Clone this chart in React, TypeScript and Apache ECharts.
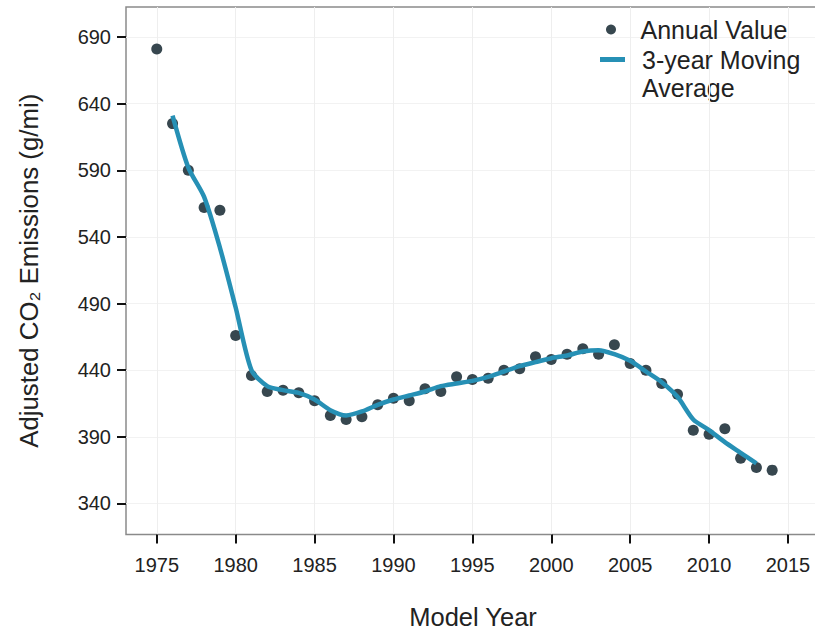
import React, { useEffect, useRef } from "react";
import * as echarts from "echarts";

const years: number[] = [
  1975, 1976, 1977, 1978, 1979, 1980, 1981, 1982, 1983, 1984,
  1985, 1986, 1987, 1988, 1989, 1990, 1991, 1992, 1993, 1994,
  1995, 1996, 1997, 1998, 1999, 2000, 2001, 2002, 2003, 2004,
  2005, 2006, 2007, 2008, 2009, 2010, 2011, 2012, 2013, 2014,
];
const annualValues: number[] = [
  681, 625, 590, 562, 560, 466, 436, 424, 425, 423,
  417, 406, 403, 405, 414, 419, 417, 426, 424, 435,
  433, 434, 440, 441, 450, 448, 452, 456, 452, 459,
  445, 440, 430, 422, 395, 392, 396, 374, 367, 365,
];
const avgYears: number[] = [
  1976, 1977, 1978, 1979, 1980, 1981, 1982, 1983, 1984, 1985,
  1986, 1987, 1988, 1989, 1990, 1991, 1992, 1993, 1994, 1995,
  1996, 1997, 1998, 1999, 2000, 2001, 2002, 2003, 2004, 2005,
  2006, 2007, 2008, 2009, 2010, 2011, 2012, 2013,
];
const movingAverage: number[] = [
  631, 592, 570, 532, 487, 440, 428, 425, 423, 418,
  410, 406, 409, 414, 418, 421, 424, 428, 430, 432,
  435, 439, 443, 446, 449, 451, 454, 455, 452, 447,
  439, 431, 420, 403, 395, 386, 378, 370,
];
const xTicks: number[] = [1975, 1980, 1985, 1990, 1995, 2000, 2005, 2010, 2015];
const yTicks: number[] = [340, 390, 440, 490, 540, 590, 640, 690];

const FONT = "'Liberation Sans', Arial, Helvetica, sans-serif";
const POINT = "#37474f";
const LINE = "#2690b5";

export default function App() {
  const ref = useRef<HTMLDivElement>(null);
  useEffect(() => {
    if (!ref.current) return;
    const chart = echarts.init(ref.current, undefined, { renderer: "svg" });
    const legendText = {
      fontFamily: FONT,
      fontSize: 25,
      lineHeight: 29,
      color: "#222",
      rich: { s: { width: 12 } },
    };
    chart.setOption({
      animation: false,
      backgroundColor: "#ffffff",
      textStyle: { fontFamily: FONT },
      grid: {
        left: 126,
        top: 7,
        right: -5,
        bottom: 95.5,
        outerBoundsMode: "none",
        containLabel: false,
        show: true,
        borderColor: "#8a8a8a",
        borderWidth: 1.5,
        backgroundColor: "#ffffff",
      },
      legend: [
        {
          data: [{ name: "Annual Value", icon: "circle" }],
          formatter: (n: string) => "{s|}" + n,
          left: 606,
          top: 15,
          padding: 0,
          orient: "vertical",
          itemWidth: 25,
          itemHeight: 10,
          textStyle: legendText,
        },
        {
          data: [{ name: "3-year Moving Average", icon: "rect" }],
          formatter: () => "{s|}3-year Moving",
          left: 600,
          top: 45,
          padding: 0,
          orient: "vertical",
          itemWidth: 25,
          itemHeight: 5,
          textStyle: legendText,
        },
      ],
      graphic: [
        {
          type: "text",
          left: 642,
          top: 75,
          style: {
            text: "Average",
            fontFamily: FONT,
            fontSize: 25,
            fill: "#222",
          },
        },
      ],
      xAxis: {
        type: "value",
        min: 1973.05,
        max: 2017.03,
        name: "Model Year",
        nameLocation: "middle",
        nameGap: 71,
        nameTextStyle: { fontFamily: FONT, fontSize: 25.5, lineHeight: 22, color: "#222" },
        axisLine: { show: false },
        axisTick: {
          show: true,
          customValues: xTicks,
          length: 9,
          lineStyle: { color: "#111", width: 2 },
        },
        axisLabel: {
          customValues: xTicks,
          formatter: (v: number) => String(v),
          margin: 20,
          fontFamily: FONT,
          fontSize: 20,
          color: "#222",
        },
        splitLine: { show: true, lineStyle: { color: "#eeeeee", width: 1 } },
      },
      yAxis: {
        type: "value",
        min: 316.7,
        max: 712.5,
        name: "Adjusted CO₂ Emissions (g/mi)",
        nameLocation: "middle",
        nameGap: 84,
        nameRotate: 90,
        nameTextStyle: { fontFamily: FONT, fontSize: 25.8, color: "#222" },
        axisLine: { show: false },
        axisTick: {
          show: true,
          customValues: yTicks,
          length: 9,
          lineStyle: { color: "#111", width: 2 },
        },
        axisLabel: {
          customValues: yTicks,
          formatter: (v: number) => String(v),
          margin: 15,
          fontFamily: FONT,
          fontSize: 20,
          color: "#222",
        },
        splitLine: { show: true, lineStyle: { color: "#f2f2f2", width: 1 } },
      },
      series: [
        {
          name: "Annual Value",
          type: "scatter",
          data: years.map((y, i) => [y, annualValues[i]]),
          symbol: "circle",
          symbolSize: 11,
          itemStyle: { color: POINT, opacity: 1 },
          z: 2,
        },
        {
          name: "3-year Moving Average",
          type: "line",
          data: avgYears.map((y, i) => [y, movingAverage[i]]),
          showSymbol: false,
          symbol: "none",
          smooth: 0.25,
          lineStyle: { color: LINE, width: 4.5 },
          itemStyle: { color: LINE },
          z: 3,
        },
      ],
    });
    return () => chart.dispose();
  }, []);
  return (
    <div
      ref={ref}
      style={{ position: "absolute", left: 0, top: 0, width: 815, height: 630 }}
    />
  );
}
